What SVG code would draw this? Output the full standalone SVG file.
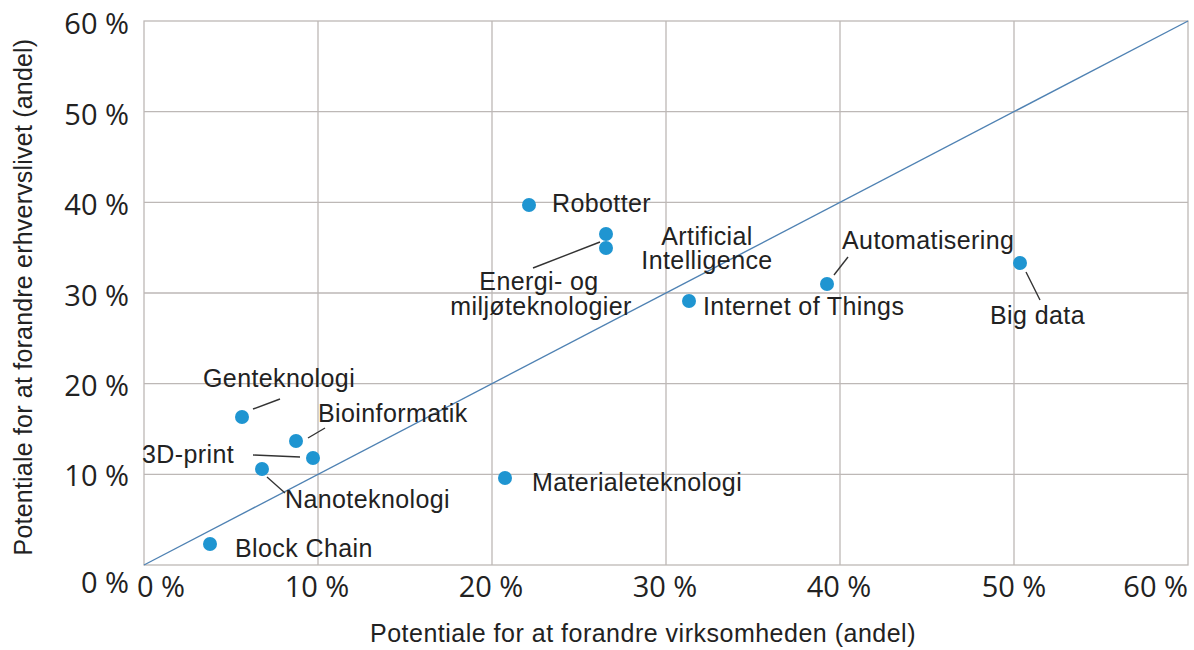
<svg xmlns="http://www.w3.org/2000/svg" width="1194" height="650" viewBox="0 0 1194 650">
<style>
.grid{stroke:#bdb8b6;stroke-width:1.3;fill:none}
.tick{font-family:"Open Sans","Liberation Sans",sans-serif;font-size:29px;fill:#222}
.lab{font-family:"Liberation Sans",Arial,sans-serif;font-size:25px;letter-spacing:0.4px;fill:#222}
.title{font-family:"Liberation Sans",Arial,sans-serif;font-size:25px;fill:#222}
.dot{fill:#1f95d1}
.lead{stroke:#333;stroke-width:1.4;fill:none}
</style>
<rect width="1194" height="650" fill="#fff"/>
<g id="grid">
<rect class="grid" x="144" y="21" width="1044" height="544"/>
<path class="grid" d="M318 21V565M492 21V565M666 21V565M840 21V565M1014 21V565M144 111.7H1188M144 202.3H1188M144 293H1188M144 383.7H1188M144 474.3H1188"/>
<line x1="144" y1="565" x2="1188" y2="21" stroke="#4f82b3" stroke-width="1.4"/>
</g>
<g id="y-ticks" class="tick" text-anchor="end">
<text x="129" y="34">60 %</text>
<text x="129" y="125">50 %</text>
<text x="129" y="215">40 %</text>
<text x="129" y="306">30 %</text>
<text x="129" y="396">20 %</text>
<text x="129" y="486">10 %</text>
<text x="129" y="593">0 %</text>
</g>
<g id="x-ticks" class="tick" text-anchor="middle">
<text x="137" y="597" text-anchor="start">0 %</text>
<text x="317" y="597">10 %</text>
<text x="491" y="597">20 %</text>
<text x="665" y="597">30 %</text>
<text x="839" y="597">40 %</text>
<text x="1014" y="597">50 %</text>
<text x="1188" y="597" text-anchor="end">60 %</text>
</g>
<g id="axis-titles" class="title" text-anchor="middle">
<text x="643" y="642" letter-spacing="0.5">Potentiale for at forandre virksomheden (andel)</text>
<text transform="translate(32 297) rotate(-90)" letter-spacing="0.2">Potentiale for at forandre erhvervslivet (andel)</text>
</g>
<g id="connectors">
<line class="lead" x1="533" y1="268" x2="600" y2="242"/>
<line class="lead" x1="834" y1="275" x2="848" y2="257"/>
<line class="lead" x1="1026" y1="272" x2="1040" y2="300"/>
<line class="lead" x1="253" y1="409" x2="280" y2="399"/>
<line class="lead" x1="308" y1="438" x2="325" y2="428"/>
<line class="lead" x1="253" y1="455" x2="300" y2="457"/>
<line class="lead" x1="267" y1="477" x2="285" y2="493"/>
</g>
<g id="robotter"><circle class="dot" cx="529" cy="205" r="7"/><text class="lab" x="552" y="212">Robotter</text></g>
<g id="artificial-intelligence"><circle class="dot" cx="606" cy="234" r="7"/><text class="lab" text-anchor="middle"><tspan x="707" y="245">Artificial</tspan><tspan x="707" y="269">Intelligence</tspan></text></g>
<g id="energi"><circle class="dot" cx="606" cy="248" r="7"/><text class="lab" text-anchor="middle"><tspan x="539" y="290">Energi- og</tspan><tspan x="541" y="315">miljøteknologier</tspan></text></g>
<g id="iot"><circle class="dot" cx="689" cy="301" r="7"/><text class="lab" x="703" y="315">Internet of Things</text></g>
<g id="automatisering"><circle class="dot" cx="827" cy="284" r="7"/><text class="lab" x="842" y="249">Automatisering</text></g>
<g id="big-data"><circle class="dot" cx="1020" cy="263" r="7"/><text class="lab" x="990" y="324">Big data</text></g>
<g id="genteknologi"><circle class="dot" cx="242" cy="417" r="7"/><text class="lab" x="203" y="387">Genteknologi</text></g>
<g id="bioinformatik"><circle class="dot" cx="296" cy="441" r="7"/><text class="lab" x="318" y="422">Bioinformatik</text></g>
<g id="print3d"><circle class="dot" cx="313" cy="458" r="7"/><text class="lab" x="142" y="463">3D-print</text></g>
<g id="nanoteknologi"><circle class="dot" cx="262" cy="469" r="7"/><text class="lab" x="285" y="508">Nanoteknologi</text></g>
<g id="materialeteknologi"><circle class="dot" cx="505" cy="478" r="7"/><text class="lab" x="532" y="491">Materialeteknologi</text></g>
<g id="block-chain"><circle class="dot" cx="210" cy="544" r="7"/><text class="lab" x="235" y="557">Block Chain</text></g>
</svg>
